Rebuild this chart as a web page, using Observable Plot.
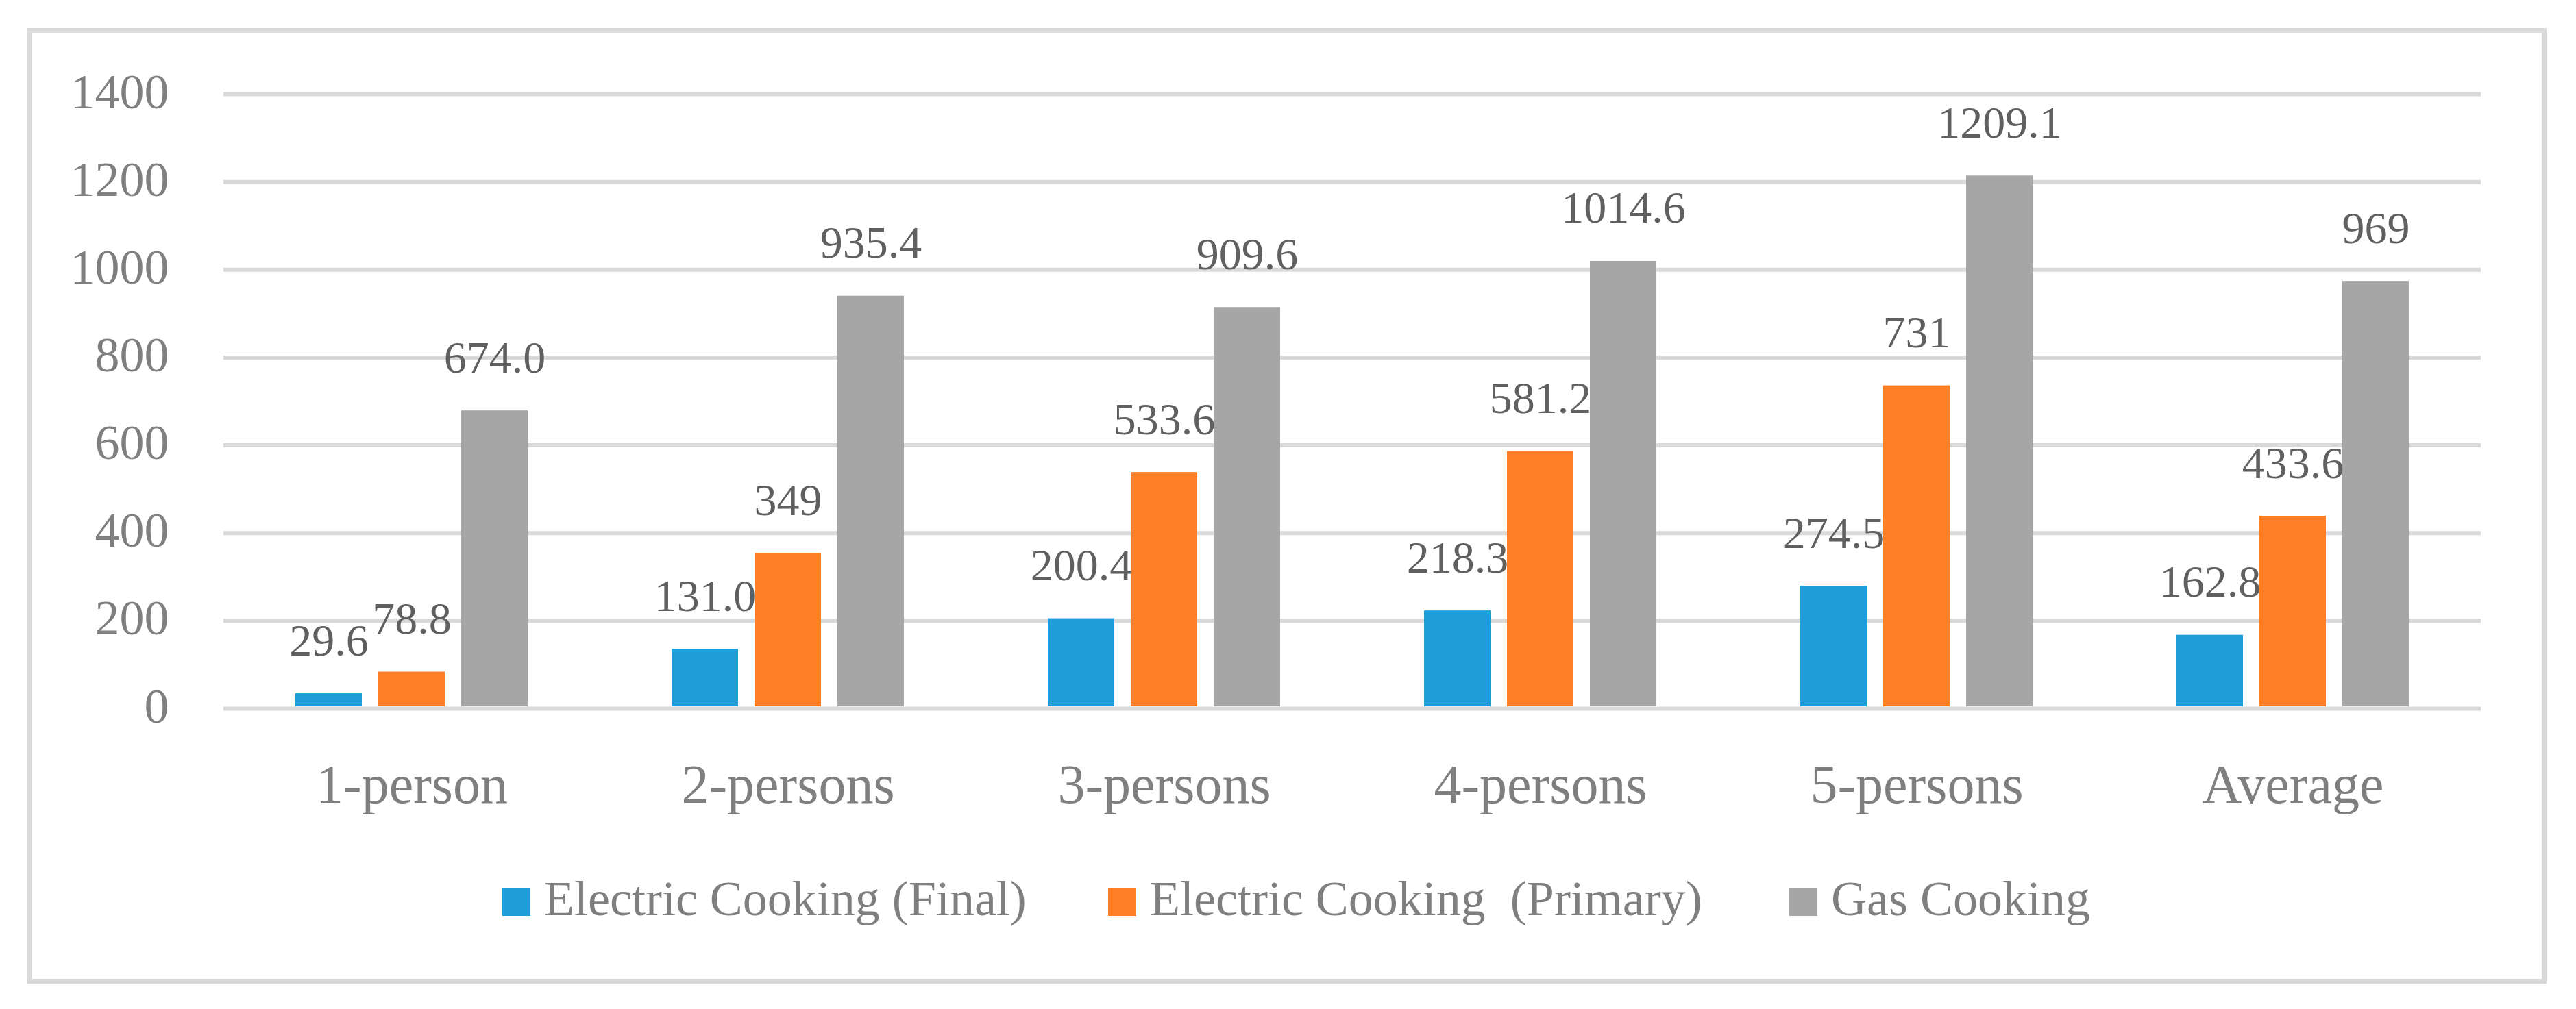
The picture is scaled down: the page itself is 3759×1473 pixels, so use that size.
<!DOCTYPE html>
<html>
<head>
<meta charset="utf-8">
<script src="https://cdn.jsdelivr.net/npm/d3@7"></script>
<script src="https://cdn.jsdelivr.net/npm/@observablehq/plot@0.6"></script>
<style>
  html, body { margin: 0; padding: 0; background: #fff; }
  body { width: 3759px; height: 1473px; position: relative; overflow: hidden; font-family: "Liberation Serif", serif; }
  #frame { position: absolute; left: 40px; top: 41px; width: 3676px; height: 1395px; box-sizing: border-box; border: 7px solid #d9d9d9; }
  #chart { position: absolute; left: 0; top: 0; }
  #chart svg text { font-family: "Liberation Serif", serif; }
  .legend-item { position: absolute; top: 1276px; height: 72px; }
  .swatch { position: absolute; top: 20px; width: 41px; height: 41px; }
  .legend-label { position: absolute; left: 61px; top: 0; font-size: 72px; line-height: 72px; color: #7f7f7f; white-space: pre; font-family: "Liberation Serif", serif; }
</style>
</head>
<body>
<div id="frame"></div>
<div id="chart"></div>
<div id="legend"></div>
<script>
const categories = ["1-person", "2-persons", "3-persons", "4-persons", "5-persons", "Average"];
const series = ["Electric Cooking (Final)", "Electric Cooking  (Primary)", "Gas Cooking"];
const finalValues = [29.6, 131.0, 200.4, 218.3, 274.5, 162.8];
const primaryValues = [78.8, 349, 533.6, 581.2, 731, 433.6];
const gasValues = [674.0, 935.4, 909.6, 1014.6, 1209.1, 969];
const finalLabels = ["29.6", "131.0", "200.4", "218.3", "274.5", "162.8"];
const primaryLabels = ["78.8", "349", "533.6", "581.2", "731", "433.6"];
const gasLabels = ["674.0", "935.4", "909.6", "1014.6", "1209.1", "969"];
const yTicks = [0, 200, 400, 600, 800, 1000, 1200, 1400];
const colors = ["#1e9ed9", "#ff7f27", "#a6a6a6"];

const valueSets = [finalValues, primaryValues, gasValues];
const labelSets = [finalLabels, primaryLabels, gasLabels];
const rows = [];
categories.forEach((c, i) => {
  series.forEach((s, j) => {
    rows.push({category: c, series: s, value: valueSets[j][i], label: labelSets[j][i]});
  });
});

const chart = Plot.plot({
  width: 3759,
  height: 1220,
  marginLeft: 324,
  marginRight: 138,
  marginTop: 134,
  marginBottom: 189,
  style: {fontFamily: "Liberation Serif", background: "transparent", overflow: "visible"},
  fx: {domain: categories, padding: 0, label: null},
  x: {domain: series, paddingInner: 0.198, paddingOuter: 0.852, axis: null},
  y: {domain: [0, 1400], label: null},
  color: {domain: series, range: colors},
  marks: [
    Plot.gridY(yTicks, {stroke: "#d9d9d9", strokeWidth: 6, strokeOpacity: 1, dy: 3}),
    Plot.barY(rows, {fx: "category", x: "series", y: "value", fill: "series"}),
    Plot.text(rows, {fx: "category", x: "series", y: "value", text: "label", dy: -56, lineAnchor: "bottom", fontSize: 66, fontFamily: "Liberation Serif", fill: "#606060"}),
    Plot.axisY(yTicks, {tickSize: 0, tickPadding: 80, fontSize: 72, fontFamily: "Liberation Serif", fill: "#7f7f7f", tickFormat: d => String(d), label: null}),
    Plot.axisFx({anchor: "bottom", tickSize: 0, tickPadding: 84, fontSize: 80, fontFamily: "Liberation Serif", fill: "#7f7f7f", label: null})
  ]
});
document.getElementById("chart").appendChild(chart);

const legendLefts = [733, 1617, 2611];
const legend = document.getElementById("legend");
series.forEach((s, j) => {
  const item = document.createElement("div");
  item.className = "legend-item";
  item.style.left = legendLefts[j] + "px";
  const sw = document.createElement("div");
  sw.className = "swatch";
  sw.style.background = colors[j];
  const lab = document.createElement("div");
  lab.className = "legend-label";
  lab.textContent = s;
  item.appendChild(sw);
  item.appendChild(lab);
  legend.appendChild(item);
});
</script>
</body>
</html>
